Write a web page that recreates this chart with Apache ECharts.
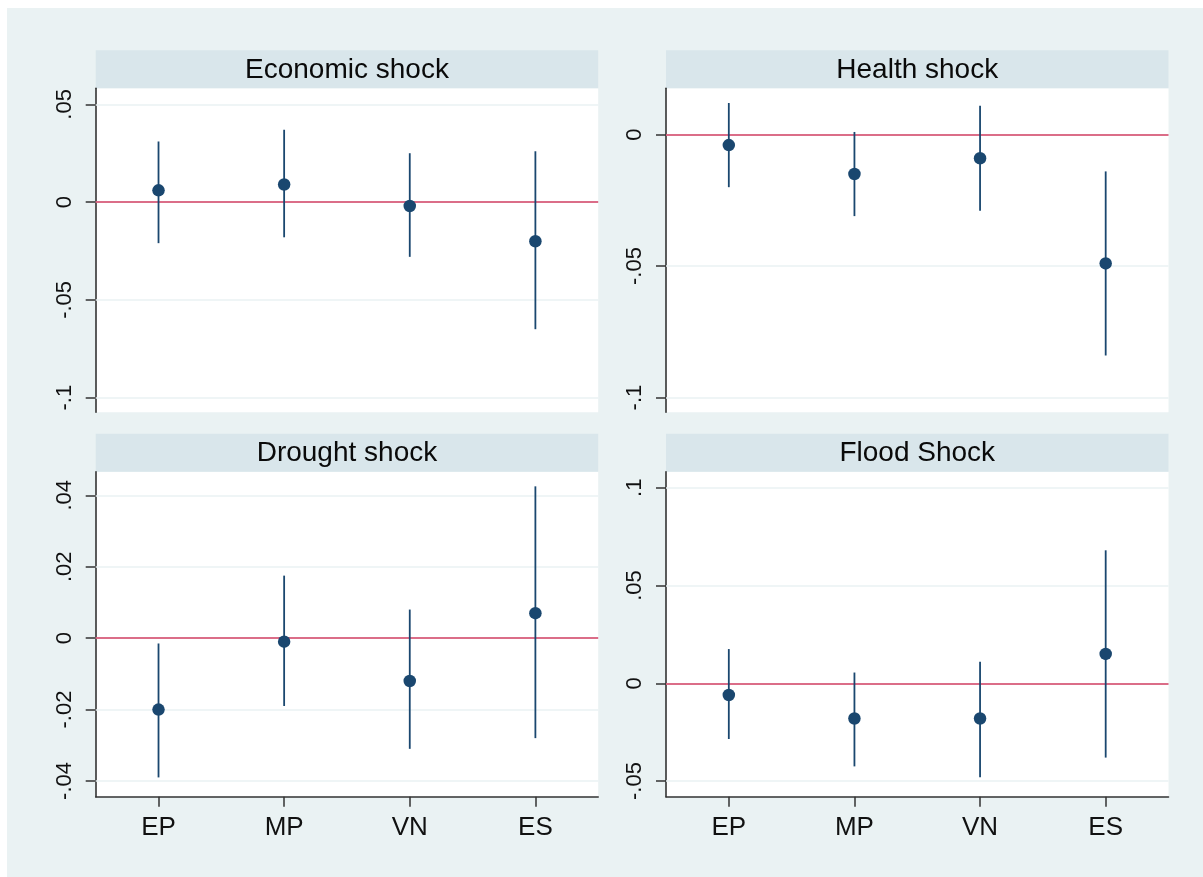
<!DOCTYPE html>
<html>
<head>
<meta charset="utf-8">
<script src="https://cdn.jsdelivr.net/npm/echarts@6/dist/echarts.min.js"></script>
<style>
  html, body { margin: 0; padding: 0; background: #ffffff; }
  #wrap { position: relative; width: 1203px; height: 877px; background: #ffffff; overflow: hidden; }
  #chart { position: absolute; left: 7px; top: 8px; width: 1196px; height: 869px; }
</style>
</head>
<body>
<div id="wrap"><div id="chart"></div></div>
<script>
// ---------------- data ----------------
const categories = ['EP', 'MP', 'VN', 'ES'];
const panelTitles = ['Economic shock', 'Health shock', 'Drought shock', 'Flood Shock'];

const econEst  = [0.006, 0.009, -0.002, -0.020];
const econLow  = [-0.021, -0.018, -0.028, -0.065];
const econHigh = [0.031, 0.037, 0.025, 0.026];

const healthEst  = [-0.004, -0.015, -0.009, -0.049];
const healthLow  = [-0.020, -0.031, -0.029, -0.084];
const healthHigh = [0.012, 0.001, 0.011, -0.014];

const droughtEst  = [-0.020, -0.001, -0.012, 0.007];
const droughtLow  = [-0.039, -0.019, -0.031, -0.028];
const droughtHigh = [-0.0015, 0.0175, 0.008, 0.0425];

const floodEst  = [-0.006, -0.018, -0.018, 0.015];
const floodLow  = [-0.0285, -0.0425, -0.048, -0.038];
const floodHigh = [0.0175, 0.0055, 0.011, 0.068];

const econTicks = [-0.1, -0.05, 0, 0.05];
const econTickLabels = ['-.1', '-.05', '0', '.05'];
const healthTicks = [-0.1, -0.05, 0];
const healthTickLabels = ['-.1', '-.05', '0'];
const droughtTicks = [-0.04, -0.02, 0, 0.02, 0.04];
const droughtTickLabels = ['-.04', '-.02', '0', '.02', '.04'];
const floodTicks = [-0.05, 0, 0.05, 0.1];
const floodTickLabels = ['-.05', '0', '.05', '.1'];

const econRange = [-0.1075, 0.0582];
const healthRange = [-0.1056, 0.0176];
const droughtRange = [-0.0444, 0.0466];
const floodRange = [-0.058, 0.1082];

// ---------------- layout / style ----------------
const OX = 7, OY = 8;
const FONT = '"Liberation Sans", Arial, sans-serif';
const NAVY = '#1A476F';
const AXIS = '#333333';
const RED = '#D43F63';
const GRIDC = '#EAF2F3';

const panels = [
  { title: panelTitles[0], est: econEst, low: econLow, high: econHigh, ticks: econTicks, labels: econTickLabels, range: econRange, left: 95.7, top: 88.3, height: 324, bottomRow: false },
  { title: panelTitles[1], est: healthEst, low: healthLow, high: healthHigh, ticks: healthTicks, labels: healthTickLabels, range: healthRange, left: 666, top: 88.3, height: 324, bottomRow: false },
  { title: panelTitles[2], est: droughtEst, low: droughtLow, high: droughtHigh, ticks: droughtTicks, labels: droughtTickLabels, range: droughtRange, left: 95.7, top: 471.7, height: 325, bottomRow: true },
  { title: panelTitles[3], est: floodEst, low: floodLow, high: floodHigh, ticks: floodTicks, labels: floodTickLabels, range: floodRange, left: 666, top: 471.7, height: 325, bottomRow: true }
];
const PW = 502.5;
const STRIP = 38;

const grids = [], xAxes = [], yAxes = [], series = [], graphics = [];

panels.forEach((p, i) => {
  grids.push({
    left: p.left - OX, top: p.top - OY, width: PW, height: p.height,
    show: true, backgroundColor: '#ffffff', borderWidth: 0, containLabel: false
  });
  xAxes.push({
    type: 'category', gridIndex: i, data: categories, boundaryGap: true,
    show: true,
    axisLine: { show: p.bottomRow, onZero: false, lineStyle: { color: AXIS, width: 1.6 } },
    axisTick: { show: p.bottomRow, alignWithLabel: true, length: 10, lineStyle: { color: AXIS, width: 1.5 } },
    axisLabel: { show: p.bottomRow, margin: 18, fontSize: 26, fontFamily: FONT, color: '#111111' },
    splitLine: { show: false }
  });
  const ticks = p.ticks, labs = p.labels;
  yAxes.push({
    type: 'value', gridIndex: i, min: p.range[0], max: p.range[1],
    axisLine: { show: true, onZero: false, lineStyle: { color: AXIS, width: 1.6 } },
    axisTick: { show: true, length: 10, customValues: ticks, lineStyle: { color: AXIS, width: 1.5 } },
    axisLabel: {
      show: true, rotate: 90, margin: 20, fontSize: 22, fontFamily: FONT, color: '#111111',
      customValues: ticks,
      formatter: function (v) {
        for (let k = 0; k < ticks.length; k++) { if (Math.abs(ticks[k] - v) < 1e-9) return labs[k]; }
        return '';
      }
    },
    splitLine: { show: false }
  });

  // gridlines
  series.push({
    type: 'line', xAxisIndex: i, yAxisIndex: i, data: [], z: 1, silent: true,
    markLine: {
      z: 1, silent: true, symbol: 'none', label: { show: false }, animation: false,
      lineStyle: { color: GRIDC, width: 1.5, type: 'solid' },
      data: ticks.map(v => ({ yAxis: v }))
    }
  });
  // zero reference line
  series.push({
    type: 'line', xAxisIndex: i, yAxisIndex: i, data: [], z: 2, silent: true,
    markLine: {
      z: 2, silent: true, symbol: 'none', label: { show: false }, animation: false,
      lineStyle: { color: RED, width: 1.7, type: 'solid' },
      data: [{ yAxis: 0 }]
    }
  });
  // confidence intervals
  series.push({
    type: 'custom', xAxisIndex: i, yAxisIndex: i, z: 8, silent: true,
    data: categories.map((c, k) => [k, p.low[k], p.high[k]]),
    renderItem: function (params, api) {
      const x = api.value(0);
      const a = api.coord([x, api.value(1)]);
      const b = api.coord([x, api.value(2)]);
      return { type: 'line', shape: { x1: a[0], y1: a[1], x2: b[0], y2: b[1] },
               style: { stroke: NAVY, lineWidth: 1.8 } };
    }
  });
  // point estimates
  series.push({
    type: 'scatter', xAxisIndex: i, yAxisIndex: i, z: 10, silent: true,
    symbol: 'circle', symbolSize: 12.5,
    itemStyle: { color: NAVY, opacity: 1 },
    data: p.est.map((v, k) => [k, v])
  });

  // title strip
  graphics.push({
    type: 'rect', silent: true,
    shape: { x: p.left - OX, y: p.top - OY - STRIP, width: PW, height: STRIP },
    style: { fill: '#D9E6EB' }
  });
  graphics.push({
    type: 'text', silent: true,
    x: p.left - OX + PW / 2, y: p.top - OY - STRIP / 2 + 1,
    style: { text: p.title, fontSize: 28, fontFamily: FONT, fill: '#0a0a0a',
             align: 'center', verticalAlign: 'middle' }
  });
});

const chart = echarts.init(document.getElementById('chart'), null, { renderer: 'canvas' });
chart.setOption({
  animation: false,
  backgroundColor: '#EAF2F3',
  grid: grids,
  xAxis: xAxes,
  yAxis: yAxes,
  series: series,
  graphic: graphics
});
</script>
</body>
</html>
